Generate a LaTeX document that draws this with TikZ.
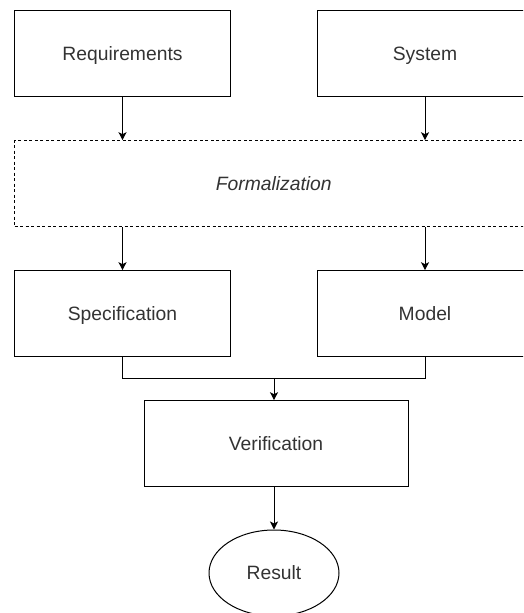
\documentclass[tikz,border=0pt]{standalone}
\usepackage{fontspec}
\setmainfont{Liberation Sans}
\usetikzlibrary{shapes.geometric,arrows.meta}
\definecolor{txt}{HTML}{333333}
\tikzset{
  lbl/.style={font=\fontsize{19.3}{23}\selectfont, text=txt, text height=13.8pt, text depth=0pt, inner sep=0pt},
  box/.style={lbl, draw=black, line width=1pt, rectangle, minimum width=216pt, minimum height=86pt},
  dbox/.style={box, dash pattern=on 3pt off 2.5pt, minimum width=518.5pt, font=\fontsize{19.3}{23}\selectfont\itshape},
  vbox/.style={box, minimum width=264pt},
  ebox/.style={lbl, draw=black, line width=1pt, ellipse, minimum width=130pt, minimum height=86pt},
  conn/.style={draw=black, line width=1pt},
  arr/.style={conn, -{Stealth[length=8pt,width=8pt,inset=2pt]}}
}
\begin{document}
\begin{tikzpicture}[x=1pt,y=-1pt]
\useasboundingbox (0,0) rectangle (523,613);
\clip (0,0) rectangle (523,613);
\node[box] (req) at (122.5,53.7) {Requirements};
\node[box] (sys) at (425,53.7) {System};
\node[dbox] (form) at (273.75,183.7) {Formalization};
\node[box] (spec) at (122.5,313.7) {Specification};
\node[box] (model) at (425,313.7) {Model};
\node[vbox] (ver) at (276,443.7) {Verification};
\node[ebox] (res) at (274,573) {Result};
\coordinate (junc) at (274,378.3);
\draw[arr] (req.south) -- (req.south |- form.north);
\draw[arr] (sys.south) -- (sys.south |- form.north);
\draw[arr] (req.south |- form.south) -- (spec.north);
\draw[arr] (sys.south |- form.south) -- (model.north);
\draw[conn] (spec.south) |- (junc) -| (model.south);
\draw[arr] (junc) -- (junc |- ver.north);
\draw[arr] (junc |- ver.south) -- (res.north);
\end{tikzpicture}
\end{document}
